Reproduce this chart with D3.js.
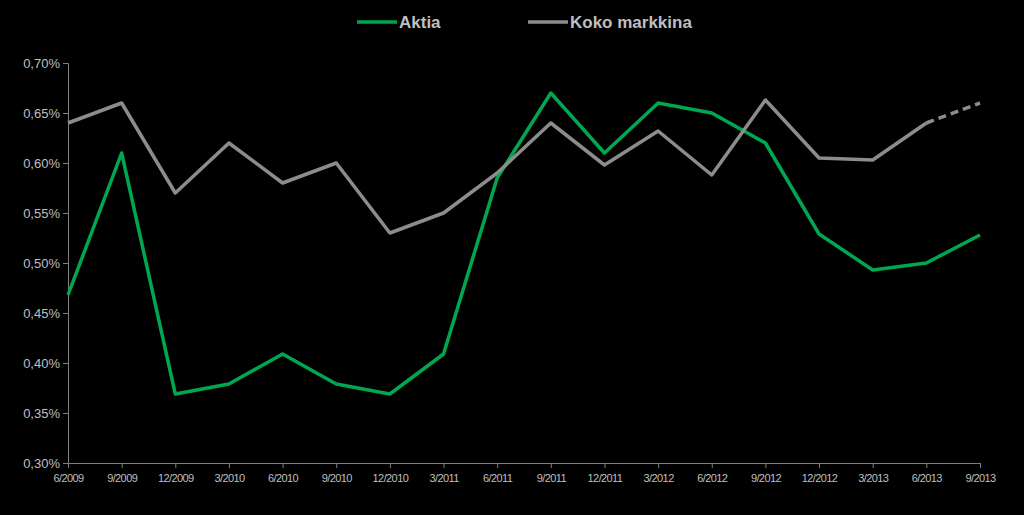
<!DOCTYPE html>
<html><head><meta charset="utf-8">
<script src="https://cdn.jsdelivr.net/npm/d3@7"></script>
<style>body{margin:0;background:#000}</style>
</head><body><svg id="c" width="1024" height="515"></svg>
<script>
const categories=["6/2009","9/2009","12/2009","3/2010","6/2010","9/2010","12/2010","3/2011","6/2011","9/2011","12/2011","3/2012","6/2012","9/2012","12/2012","3/2013","6/2013","9/2013"];
const aktia=[0.468,0.61,0.369,0.379,0.409,0.379,0.369,0.409,0.585,0.67,0.61,0.66,0.65,0.62,0.529,0.493,0.50,0.528];
const koko=[0.64,0.66,0.57,0.62,0.58,0.60,0.53,0.55,0.59,0.64,0.598,0.632,0.588,0.663,0.605,0.603,0.64,0.66];
const yTicks=[0.30,0.35,0.40,0.45,0.50,0.55,0.60,0.65,0.70];
const svg=d3.select("#c");
const x=d3.scalePoint().domain(categories).range([68,980]);
const y=d3.scaleLinear().domain([0.30,0.70]).range([463,63]);
const fmt=v=>v.toFixed(2).replace(".",",")+"%";
const ya=svg.append("g").attr("transform","translate(68,0)").call(d3.axisLeft(y).tickValues(yTicks).tickFormat(fmt).tickSize(5));
ya.selectAll("text").attr("fill","#bfbfbf").style("font","13px 'Liberation Sans',Arial");
ya.selectAll("line,path").attr("stroke","#7f7f7f");
const xa=svg.append("g").attr("transform","translate(0,463)").call(d3.axisBottom(x).tickSize(5).tickPadding(6));
xa.selectAll("text").attr("fill","#bfbfbf").style("font","11px 'Liberation Sans',Arial").attr("letter-spacing","-0.6");
xa.selectAll("line,path").attr("stroke","#7f7f7f");
const line=d3.line().x((d,i)=>x(categories[i])).y(d=>y(d));
svg.append("path").datum(aktia).attr("d",line).attr("fill","none").attr("stroke","#00a650").attr("stroke-width",3.5).attr("stroke-linejoin","round");
const n=koko.length;
svg.append("path").datum(koko.slice(0,n-1)).attr("d",line).attr("fill","none").attr("stroke","#8c8c8c").attr("stroke-width",3.5).attr("stroke-linejoin","round");
svg.append("path").datum(koko.slice(n-2)).attr("d",d3.line().x((d,i)=>x(categories[n-2+i])).y(d=>y(d))).attr("fill","none").attr("stroke","#8c8c8c").attr("stroke-width",3.5).attr("stroke-dasharray","8,5");
const lg=[["Aktia","#00a650",357],["Koko markkina","#8c8c8c",528]];
lg.forEach(([t,c,px])=>{
 svg.append("line").attr("x1",px).attr("x2",px+40).attr("y1",22).attr("y2",22).attr("stroke",c).attr("stroke-width",3.5);
 svg.append("text").attr("x",px+42).attr("y",28).attr("fill","#bfbfbf").style("font","bold 17px 'Liberation Sans',Arial").text(t);
});
</script></body></html>
